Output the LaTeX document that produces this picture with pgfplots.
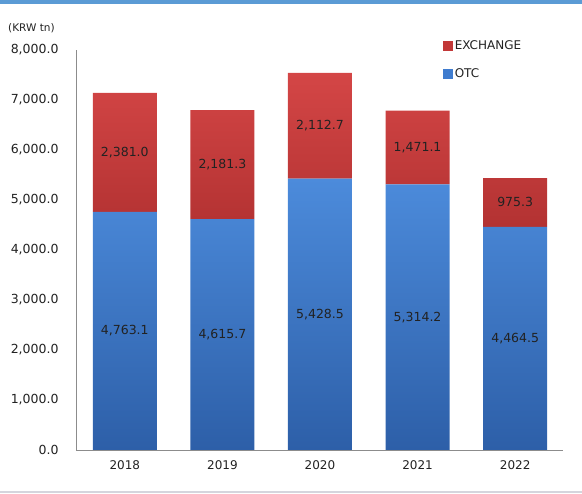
\documentclass[border=0pt]{standalone}
\usepackage{fontspec}
\setmainfont{DejaVu Sans}
\usepackage{pgfplots}
\pgfplotsset{compat=1.18}
\definecolor{redtop}{HTML}{D44646}
\definecolor{redbot}{HTML}{B33232}
\definecolor{bluetop}{HTML}{4C8BDB}
\definecolor{bluebot}{HTML}{2D5FA8}
\definecolor{exred}{HTML}{C23838}
\definecolor{otcblue}{HTML}{3F7CCF}
\definecolor{bandblue}{HTML}{5B9BD5}
\definecolor{axgray}{HTML}{8C8C8C}
\definecolor{txt}{HTML}{222222}
\tikzset{vlab/.style={font=\fontsize{12.5}{14}\selectfont, text=txt}}

\begin{document}
\begin{tikzpicture}
  \path[use as bounding box] (0,0) rectangle (582pt,494pt);
  \fill[bandblue] (0,490pt) rectangle (582pt,494pt);
  \fill[blue!10!gray!30] (0,1pt) rectangle (582pt,2.5pt);
  \begin{axis}[
    at={(76pt,44pt)}, anchor=south west,
    scale only axis, width=487pt, height=400pt,
    ybar stacked, bar width=64pt,
    xmin=-0.5, xmax=4.49, ymin=0, ymax=8000,
    xtick={0,1,2,3,4}, xticklabels={2018,2019,2020,2021,2022},
    ytick={0,1000,...,8000},
    major tick length=0pt,
    axis x line*=bottom, axis y line*=left,
    axis line style={axgray, line width=0.8pt},
    yticklabel style={font=\fontsize{12.5}{14}\selectfont, text=txt, xshift=-14pt},
    xticklabel style={font=\fontsize{12}{14}\selectfont, text=txt, yshift=-7pt},
    yticklabel style={/pgf/number format/.cd, fixed, fixed zerofill, precision=1, 1000 sep={,}, assume math mode=true},
    legend style={at={(0.754,1.028)}, anchor=north west, draw=none,
      font=\fontsize{12}{14}\selectfont, text=txt, row sep=13pt, inner sep=0pt},
    legend cell align=left,
  ]
    \addlegendimage{legend image code/.code={\fill[exred] (0pt,-4.5pt) rectangle (9pt,4.5pt);}}
    \addlegendentry{EXCHANGE}
    \addlegendimage{legend image code/.code={\fill[otcblue] (0pt,-4.5pt) rectangle (9pt,4.5pt);}}
    \addlegendentry{OTC}
    \addplot[draw=none, top color=bluetop, bottom color=bluebot, forget plot]
      coordinates {(0,4763.1) (1,4615.7) (2,5428.5) (3,5314.2) (4,4464.5)};
    \addplot[draw=none, top color=redtop, bottom color=redbot, forget plot]
      coordinates {(0,2381.0) (1,2181.3) (2,2112.7) (3,1471.1) (4,975.3)};

    \coordinate (o0) at (axis cs:0,2381.6);
    \coordinate (o1) at (axis cs:1,2307.9);
    \coordinate (o2) at (axis cs:2,2714.3);
    \coordinate (o3) at (axis cs:3,2657.1);
    \coordinate (o4) at (axis cs:4,2232.3);
    \coordinate (e0) at (axis cs:0,5953.6);
    \coordinate (e1) at (axis cs:1,5706.4);
    \coordinate (e2) at (axis cs:2,6484.9);
    \coordinate (e3) at (axis cs:3,6049.8);
    \coordinate (e4) at (axis cs:4,4952.2);
  \end{axis}
  \node[vlab] at (o0) {4,763.1};
  \node[vlab] at (o1) {4,615.7};
  \node[vlab] at (o2) {5,428.5};
  \node[vlab] at (o3) {5,314.2};
  \node[vlab] at (o4) {4,464.5};
  \node[vlab] at (e0) {2,381.0};
  \node[vlab] at (e1) {2,181.3};
  \node[vlab] at (e2) {2,112.7};
  \node[vlab] at (e3) {1,471.1};
  \node[vlab] at (e4) {975.3};
  \node[font=\fontsize{10.5}{12}\selectfont, text=txt, anchor=west, inner sep=0pt]
    at (8pt,466pt) {(KRW tn)};
\end{tikzpicture}
\end{document}
